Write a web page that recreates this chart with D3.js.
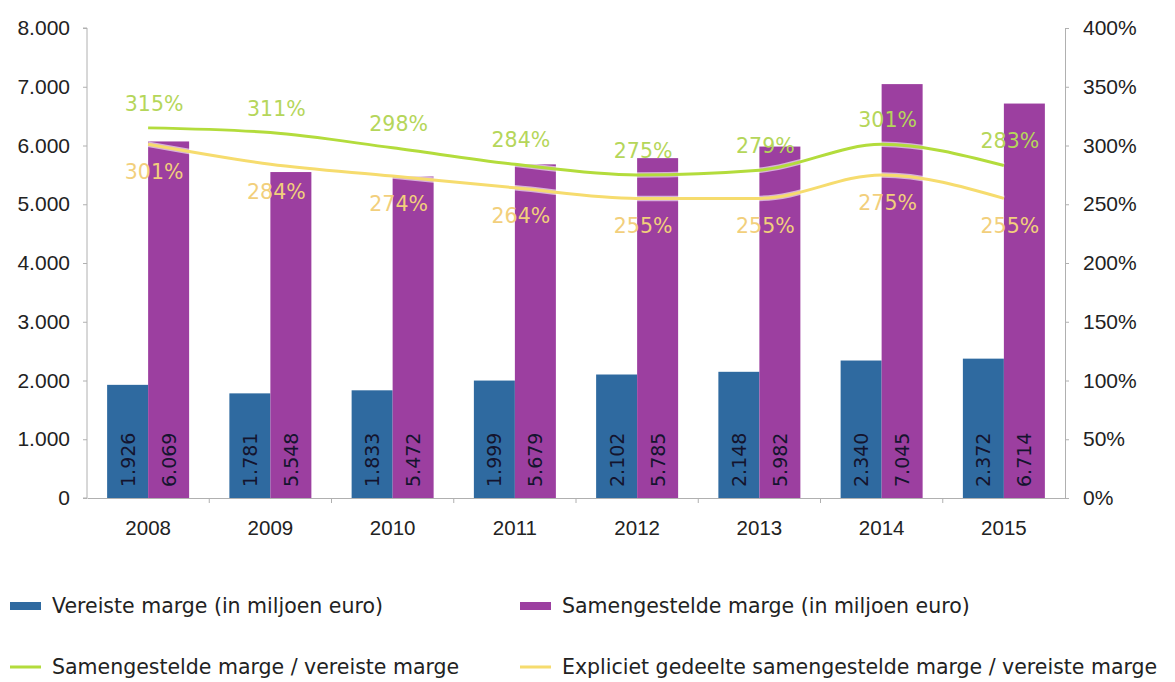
<!DOCTYPE html>
<html>
<head>
<meta charset="utf-8">
<script src="https://cdn.jsdelivr.net/npm/d3@7"></script>
<style>
  body { margin: 0; background: #fff; }
  svg { display: block; font-family: "DejaVu Sans", "Liberation Sans", Arial, sans-serif; }
</style>
</head>
<body>
<svg id="chart" width="1175" height="682"></svg>
<script>
// Jaarcijfers marges
const years = ["2008", "2009", "2010", "2011", "2012", "2013", "2014", "2015"];
const vereiste = [1926, 1781, 1833, 1999, 2102, 2148, 2340, 2372];
const samengesteld = [6069, 5548, 5472, 5679, 5785, 5982, 7045, 6714];
const ratioSamen = [315, 311, 298, 284, 275, 279, 301, 283];
const ratioExpliciet = [301, 284, 274, 264, 255, 255, 275, 255];
const leftTicks = [0, 1000, 2000, 3000, 4000, 5000, 6000, 7000, 8000];
const rightTicks = [0, 50, 100, 150, 200, 250, 300, 350, 400];

const legendItems = [
  { label: "Vereiste marge (in miljoen euro)", color: "#2f6aa0", type: "bar" },
  { label: "Samengestelde marge (in miljoen euro)", color: "#9c3fa0", type: "bar" },
  { label: "Samengestelde marge / vereiste marge", color: "#b3dc3c", type: "line" },
  { label: "Expliciet gedeelte samengestelde marge / vereiste marge", color: "#f6dc6e", type: "line" }
];

const colors = { blue: "#2f6aa0", purple: "#9c3fa0", green: "#b3dc3c", yellow: "#f6dc6e",
  greenText: "#b5d65a", yellowText: "#f2cf7c", axis: "#b0b0b0", text: "#222" };

const svg = d3.select("#chart");
const m = { left: 87, right: 1065, top: 28, bottom: 498 };

const x = d3.scaleBand().domain(years).range([m.left, m.right]).paddingInner(0).paddingOuter(0);
const xs = d3.scaleBand().domain(["v", "s"]).range([0, 82]);
const yL = d3.scaleLinear().domain([0, 8000]).range([m.bottom, m.top]);
const yR = d3.scaleLinear().domain([0, 400]).range([m.bottom, m.top]);

const fmtThousands = d3.formatLocale({ decimal: ",", thousands: ".", grouping: [3] }).format(",d");

// Left axis
const axL = svg.append("g").attr("transform", `translate(${m.left},0)`)
  .call(d3.axisLeft(yL).tickValues(leftTicks).tickFormat(fmtThousands).tickSize(4).tickPadding(13));
// Right axis
const axR = svg.append("g").attr("transform", `translate(${m.right},0)`)
  .call(d3.axisRight(yR).tickValues(rightTicks).tickFormat(d => d + "%").tickSize(4).tickPadding(14));
// Bottom axis
const axB = svg.append("g").attr("transform", `translate(0,${m.bottom})`)
  .call(d3.axisBottom(x).tickSize(0).tickPadding(22));
// category separator ticks
svg.append("g").selectAll("line").data(years.slice(1)).join("line")
  .attr("x1", d => x(d)).attr("x2", d => x(d))
  .attr("y1", m.bottom).attr("y2", m.bottom + 5)
  .attr("stroke", colors.axis);

[axL, axR].forEach(g => {
  g.selectAll(".domain, .tick line").attr("stroke", colors.axis);
  g.selectAll("text").attr("fill", colors.text).style("font-size", "21px");
});
axB.selectAll(".domain").attr("stroke", colors.axis);
axB.selectAll("text").attr("fill", colors.text).style("font-size", "20.5px");
axL.select(".domain").attr("d", `M-4,${m.top}H0V${m.bottom}H-4`);

// Bars
const groups = svg.append("g").selectAll("g").data(years).join("g")
  .attr("transform", d => `translate(${x(d) + (x.bandwidth() - 82) / 2},0)`);

groups.append("rect")
  .attr("x", xs("v")).attr("width", xs.bandwidth())
  .attr("y", (d, i) => yL(vereiste[i])).attr("height", (d, i) => m.bottom - yL(vereiste[i]))
  .attr("fill", colors.blue);
groups.append("rect")
  .attr("x", xs("s")).attr("width", xs.bandwidth())
  .attr("y", (d, i) => yL(samengesteld[i])).attr("height", (d, i) => m.bottom - yL(samengesteld[i]))
  .attr("fill", colors.purple);

// Bar value labels (rotated)
groups.append("text")
  .attr("transform", () => `translate(${xs("v") + xs.bandwidth() / 2 + 7},${m.bottom - 11}) rotate(-90)`)
  .attr("fill", "#14142e").style("font-size", "19px")
  .text((d, i) => fmtThousands(vereiste[i]));
groups.append("text")
  .attr("transform", () => `translate(${xs("s") + xs.bandwidth() / 2 + 7},${m.bottom - 11}) rotate(-90)`)
  .attr("fill", "#14142e").style("font-size", "19px")
  .text((d, i) => fmtThousands(samengesteld[i]));

// Ratio lines
const line = d3.line().x((d, i) => x(years[i]) + x.bandwidth() / 2).y(d => yR(d)).curve(d3.curveMonotoneX);

function drawLine(data, color) {
  svg.append("path").datum(data).attr("d", line)
    .attr("fill", "none").attr("stroke", "#fff").attr("stroke-opacity", 0.6).attr("stroke-width", 5.5);
  svg.append("path").datum(data).attr("d", line)
    .attr("fill", "none").attr("stroke", color).attr("stroke-width", 3);
}
drawLine(ratioExpliciet, colors.yellow);
drawLine(ratioSamen, colors.green);

svg.append("g").selectAll("text").data(ratioSamen).join("text")
  .attr("x", (d, i) => x(years[i]) + x.bandwidth() / 2 + 6)
  .attr("y", d => yR(d) - 17)
  .attr("text-anchor", "middle").attr("fill", colors.greenText).style("font-size", "20.5px")
  .text(d => d + "%");
svg.append("g").selectAll("text").data(ratioExpliciet).join("text")
  .attr("x", (d, i) => x(years[i]) + x.bandwidth() / 2 + 6)
  .attr("y", d => yR(d) + 35)
  .attr("text-anchor", "middle").attr("fill", colors.yellowText).style("font-size", "20.5px")
  .text(d => d + "%");

// Legend
const legendPos = [[10, 606], [520, 606], [10, 667], [520, 667]];
const leg = svg.append("g").selectAll("g").data(legendItems).join("g")
  .attr("transform", (d, i) => `translate(${legendPos[i][0]},${legendPos[i][1]})`);
leg.append("rect")
  .attr("x", 0).attr("width", 31)
  .attr("y", d => d.type === "bar" ? -4 : -1.5)
  .attr("height", d => d.type === "bar" ? 8 : 3)
  .attr("fill", d => d.color);
leg.append("text").attr("x", 42).attr("y", 7)
  .attr("fill", colors.text).style("font-size", "20.5px")
  .text(d => d.label);
</script>
</body>
</html>
